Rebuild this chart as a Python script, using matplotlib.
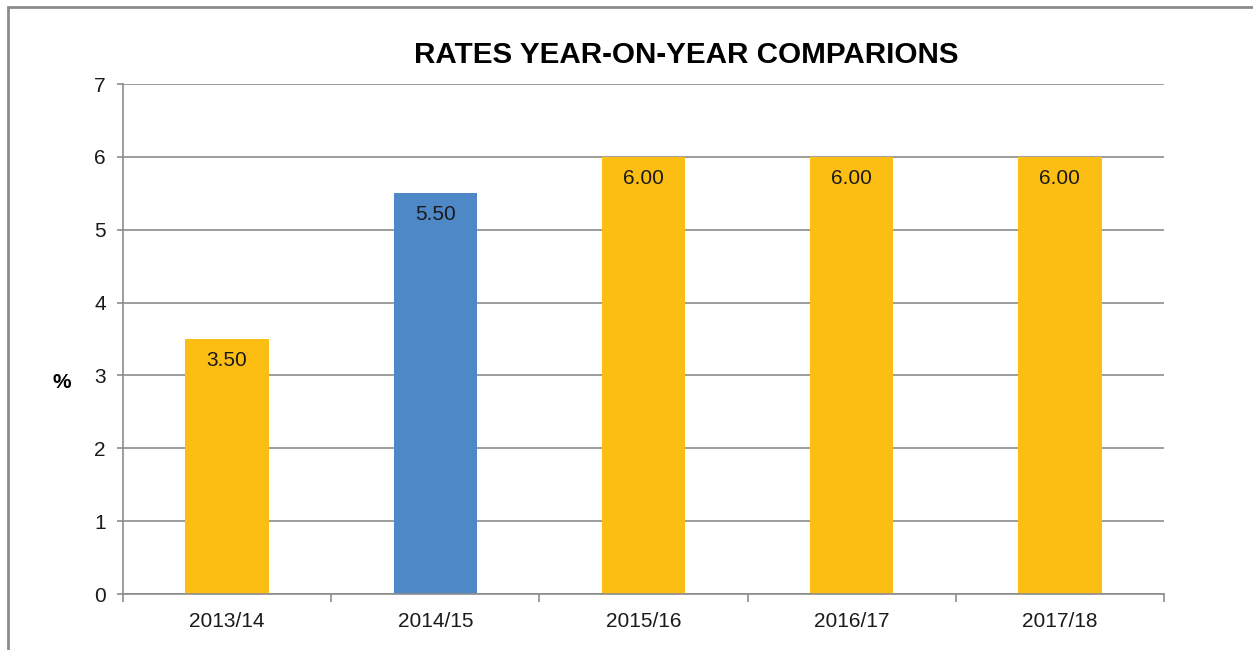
import matplotlib
matplotlib.use("Agg")
import matplotlib.pyplot as plt
from matplotlib.patches import Rectangle

# data
years = ['2013/14', '2014/15', '2015/16', '2016/17', '2017/18']
rates = [3.50, 5.50, 6.00, 6.00, 6.00]
bar_colors = ['#FCBE13', '#4F88C6', '#FCBE13', '#FCBE13', '#FCBE13']

plt.rcParams['font.family'] = ['Liberation Sans', 'DejaVu Sans']

W, H = 1253, 650
fig = plt.figure(figsize=(W / 100, H / 100), dpi=100)
ax = fig.add_axes([123 / W, 1 - 594 / H, (1164 - 123) / W, (594 - 84) / H])

# outer frame (cut off at right and bottom like the screenshot)
fig.patches.append(Rectangle((8 / W, -0.1), 1.2, 1 - 6.5 / H + 0.1,
                             transform=fig.transFigure, fill=False,
                             edgecolor='#8c8c8c', linewidth=2))

x = range(len(years))
ax.bar(x, rates, width=0.4, color=bar_colors, zorder=2)

for i, v in enumerate(rates):
    ax.text(i, v - 0.16, f'{v:.2f}', ha='center', va='top', fontsize=15,
            color='#1a1a1a', zorder=3)

ax.set_xlim(-0.5, len(years) - 0.5)
ax.set_ylim(0, 7)
ax.set_yticks(range(0, 8))
ax.yaxis.grid(True, color='#8c8c8c', linewidth=1.2, zorder=0)
ax.set_axisbelow(True)

ax.set_xticks(list(x))
ax.set_xticklabels(years, fontsize=15, color='#1a1a1a')
ax.tick_params(axis='x', length=0, pad=13)
ax.set_xticks([i - 0.5 for i in range(len(years) + 1)], minor=True)
ax.tick_params(axis='x', which='minor', length=6, color='#8c8c8c', width=1.2)
ax.tick_params(axis='y', length=4.5, color='#8c8c8c', width=1.2, labelsize=15,
               labelcolor='#1a1a1a', pad=8)

for s in ['top', 'right']:
    ax.spines[s].set_visible(False)
for s in ['left', 'bottom']:
    ax.spines[s].set_color('#8c8c8c')
    ax.spines[s].set_linewidth(1.2)

fig.text(62 / W, 1 - 383 / H, '%', fontsize=15, fontweight='bold',
         ha='center', va='center')
fig.text(686 / W, 1 - 55 / H, 'RATES YEAR-ON-YEAR COMPARIONS', fontsize=21.3,
         fontweight='bold', ha='center', va='center')

fig.savefig('out.png', dpi=100)
